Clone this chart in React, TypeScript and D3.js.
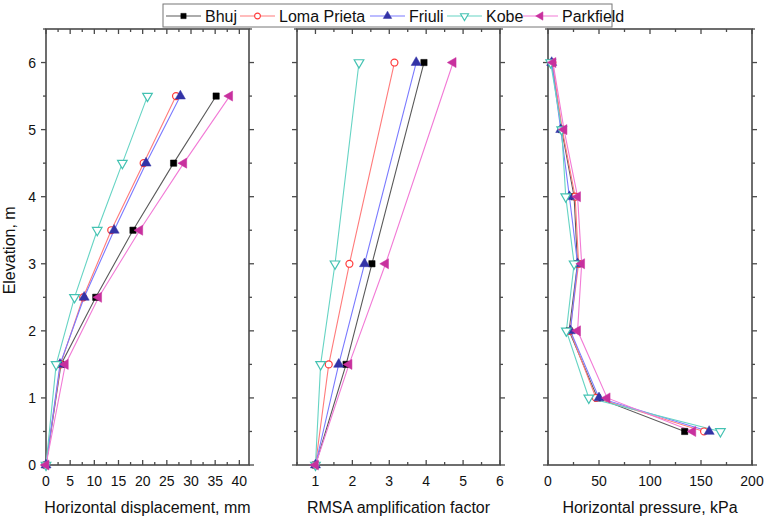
import React, { useEffect, useRef } from "react";
import * as d3 from "d3";

// ---------- DATA ----------
const seriesNames = ["Bhuj", "Loma Prieta", "Friuli", "Kobe", "Parkfield"];

// Panel 1: horizontal displacement (mm) vs elevation (m)
const dispElev = [0, 1.5, 2.5, 3.5, 4.5, 5.5];
const dispBhuj = [0, 3.1, 10.3, 18.0, 26.4, 35.2];
const dispLoma = [0, 3.0, 7.7, 13.5, 20.2, 26.9];
const dispFriuli = [0, 2.9, 7.9, 14.1, 20.7, 27.8];
const dispKobe = [0, 2.1, 5.9, 10.6, 15.8, 21.0];
const dispParkfield = [0, 4.0, 10.9, 19.4, 28.5, 38.0];

// Panel 2: RMSA amplification factor vs elevation (m)
const rmsaElev = [0, 1.5, 3, 6];
const rmsaBhuj = [1.0, 1.83, 2.53, 3.94];
const rmsaLoma = [1.0, 1.36, 1.92, 3.14];
const rmsaFriuli = [1.0, 1.63, 2.33, 3.73];
const rmsaKobe = [1.0, 1.14, 1.53, 2.18];
const rmsaParkfield = [1.0, 1.91, 2.9, 4.73];

// Panel 3: horizontal pressure (kPa) vs elevation (m)
const presElev = [0.5, 1, 2, 3, 4, 5, 6];
const presBhuj = [134, 48.5, 20.7, 28.9, 25.6, 13.4, 3.6];
const presLoma = [153, 47, 21.6, 30, 26.6, 14, 4.3];
const presFriuli = [158, 50, 22, 29, 21, 12.5, 3.6];
const presKobe = [169, 40, 18, 25.6, 17.4, 13.4, 2.6];
const presParkfield = [142, 58, 29, 33, 29, 15.7, 4.9];

const yTicks = [0, 1, 2, 3, 4, 5, 6];
const dispTicks = [0, 5, 10, 15, 20, 25, 30, 35, 40];
const rmsaTicks = [1, 2, 3, 4, 5, 6];
const presTicks = [0, 50, 100, 150, 200];

const xTitles = ["Horizontal displacement, mm", "RMSA amplification factor", "Horizontal pressure, kPa"];
const yTitle = "Elevation, m";

// ---------- STYLE ----------
const lineColors = ["#5a5a5a", "#ff7b7b", "#7a7aff", "#66d4c4", "#f27ad6"];
const markColors = ["#000000", "#ff3a3a", "#3333a6", "#44c2b2", "#c8309e"];
const markFilled = [true, false, true, false, true];
const FONT = "'Liberation Sans', Arial, sans-serif";

export default function App() {
  const ref = useRef<SVGSVGElement>(null);

  useEffect(() => {
    const svg = d3.select(ref.current);
    svg.selectAll("*").remove();

    const y = d3.scaleLinear().domain([0, 6.5]).range([465, 29]);

    const panels = [
      {
        x: d3.scaleLinear().domain([0, 42]).range([46, 249]),
        elev: dispElev,
        series: [dispBhuj, dispLoma, dispFriuli, dispKobe, dispParkfield],
        ticks: dispTicks,
        minor: d3.range(0, 42.01, 2.5),
        showY: true,
      },
      {
        x: d3.scaleLinear().domain([0.5, 6]).range([297, 500]),
        elev: rmsaElev,
        series: [rmsaBhuj, rmsaLoma, rmsaFriuli, rmsaKobe, rmsaParkfield],
        ticks: rmsaTicks,
        minor: d3.range(0.5, 6.01, 0.5),
        showY: false,
      },
      {
        x: d3.scaleLinear().domain([0, 200]).range([548, 752]),
        elev: presElev,
        series: [presBhuj, presLoma, presFriuli, presKobe, presParkfield],
        ticks: presTicks,
        minor: d3.range(0, 200.01, 25),
        showY: false,
      },
    ];

    const symbolFor = (i: number, scale = 1) => {
      const types = [d3.symbolSquare, d3.symbolCircle, d3.symbolTriangle, d3.symbolTriangle, d3.symbolTriangle];
      const sizes = [40, 38, 44, 40, 44];
      return d3.symbol().type(types[i]).size(sizes[i] * scale)();
    };
    const rotFor = [0, 0, 0, 180, -90];

    const yMinor = d3.range(0, 6.51, 0.5);
    const frameColor = "#4a4a4a";

    panels.forEach((p, pi) => {
      const g = svg.append("g");
      const [x0, x1] = p.x.range();
      const yb = y(0);
      const yt = y(6.5);

      g.append("rect")
        .attr("x", x0).attr("y", yt)
        .attr("width", x1 - x0).attr("height", yb - yt)
        .attr("fill", "white").attr("stroke", frameColor).attr("stroke-width", 1.6);

      yMinor.forEach((v) => {
        const major = Math.abs(v - Math.round(v)) < 1e-6;
        const len = major ? 5 : 3;
        g.append("line").attr("x1", x0 - len).attr("x2", x0).attr("y1", y(v)).attr("y2", y(v))
          .attr("stroke", frameColor).attr("stroke-width", 1.3);
        g.append("line").attr("x1", x1).attr("x2", x1 + len).attr("y1", y(v)).attr("y2", y(v))
          .attr("stroke", frameColor).attr("stroke-width", 1.3);
      });

      p.minor.forEach((v) => {
        const major = p.ticks.some((t) => Math.abs(t - v) < 1e-6);
        const len = major ? 5 : 3;
        const xv = p.x(v);
        g.append("line").attr("x1", xv).attr("x2", xv).attr("y1", yb).attr("y2", yb - len)
          .attr("stroke", frameColor).attr("stroke-width", 1.3);
        g.append("line").attr("x1", xv).attr("x2", xv).attr("y1", yt).attr("y2", yt + len)
          .attr("stroke", frameColor).attr("stroke-width", 1.3);
      });

      p.ticks.forEach((t) => {
        g.append("text").attr("x", p.x(t)).attr("y", 486)
          .attr("text-anchor", "middle").attr("font-family", FONT).attr("font-size", 14)
          .attr("fill", "#111").text(String(t));
      });

      if (p.showY) {
        yTicks.forEach((t) => {
          g.append("text").attr("x", 36).attr("y", y(t) + 5)
            .attr("text-anchor", "end").attr("font-family", FONT).attr("font-size", 14)
            .attr("fill", "#111").text(String(t));
        });
      }

      g.append("text").attr("x", (x0 + x1) / 2).attr("y", 513)
        .attr("text-anchor", "middle").attr("font-family", FONT).attr("font-size", 16)
        .attr("fill", "#111").text(xTitles[pi]);

      const line = d3.line<number>().x((d) => p.x(d)).y((_, i) => y(p.elev[i]));
      p.series.forEach((s, si) => {
        g.append("path").attr("d", line(s) as string)
          .attr("fill", "none").attr("stroke", lineColors[si]).attr("stroke-width", 1.1);
      });
      p.series.forEach((s, si) => {
        s.forEach((v, i) => {
          g.append("path").attr("d", symbolFor(si) as string)
            .attr("transform", `translate(${p.x(v)},${y(p.elev[i])}) rotate(${rotFor[si]})`)
            .attr("fill", markFilled[si] ? markColors[si] : "white")
            .attr("stroke", markColors[si]).attr("stroke-width", markFilled[si] ? 0.5 : 1.2);
        });
      });
    });

    svg.append("text")
      .attr("transform", `translate(15,${y(3.2)}) rotate(-90)`)
      .attr("text-anchor", "middle").attr("font-family", FONT).attr("font-size", 16)
      .attr("fill", "#111").text(yTitle);

    const lg = svg.append("g");
    lg.append("rect").attr("x", 163).attr("y", 4).attr("width", 449).attr("height", 23)
      .attr("fill", "white").attr("stroke", "#777").attr("stroke-width", 1);
    const legendStart = [166, 240, 370, 447, 523];
    seriesNames.forEach((name, si) => {
      const sx = legendStart[si];
      lg.append("line").attr("x1", sx).attr("x2", sx + 35).attr("y1", 16).attr("y2", 16)
        .attr("stroke", lineColors[si]).attr("stroke-width", 1.1);
      lg.append("path").attr("d", symbolFor(si, 0.7) as string)
        .attr("transform", `translate(${sx + 17.5},16) rotate(${rotFor[si]})`)
        .attr("fill", markFilled[si] ? markColors[si] : "white")
        .attr("stroke", markColors[si]).attr("stroke-width", markFilled[si] ? 0.5 : 1.1);
      lg.append("text").attr("x", sx + 39).attr("y", 22)
        .attr("font-family", FONT).attr("font-size", 16).attr("fill", "#111").text(name);
    });
  }, []);

  return (
    <svg
      ref={ref}
      width={765}
      height={519}
      style={{ position: "absolute", left: 0, top: 0, background: "white" }}
    />
  );
}
